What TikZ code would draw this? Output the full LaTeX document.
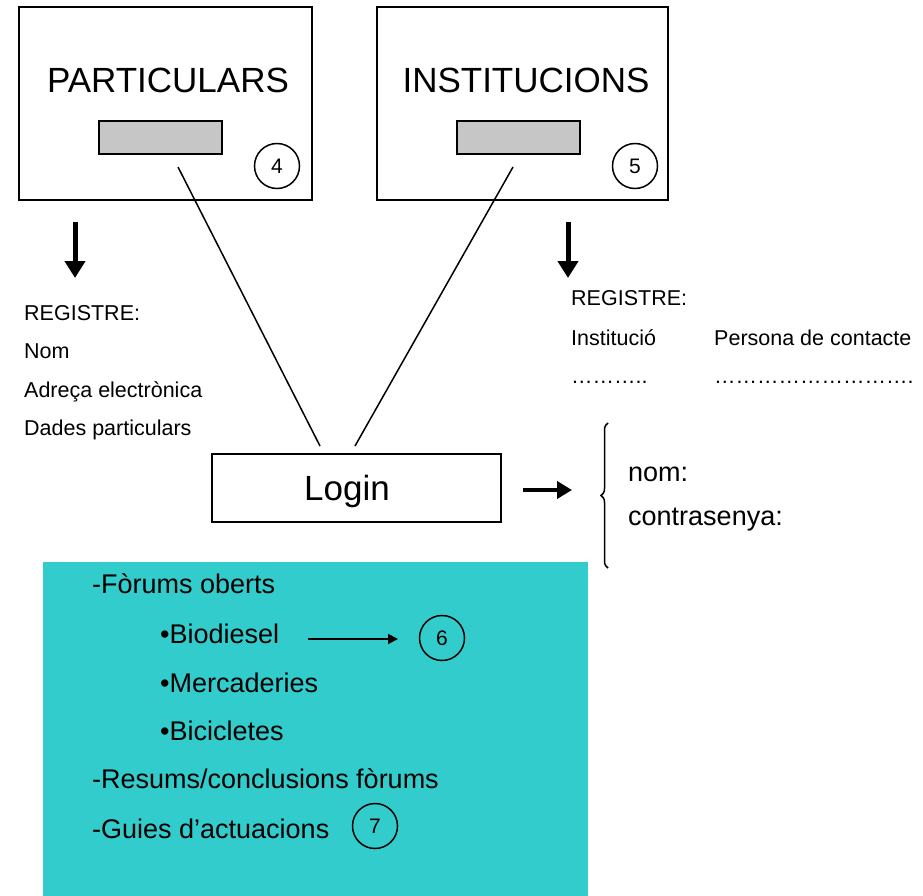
\documentclass[tikz,border=0pt]{standalone}
\usepackage{fontspec}
\setmainfont{Liberation Sans}
\usetikzlibrary{positioning,arrows.meta,decorations.pathreplacing}
\definecolor{forumcyan}{HTML}{33CCCC}

\begin{document}
\begin{tikzpicture}[x=1pt,y=-1pt,
    caixa/.style={draw,line width=2pt,inner sep=0pt},
    boto/.style={draw,line width=1.5pt,fill=gray!45,minimum width=123pt,minimum height=33pt,inner sep=0pt},
    titol/.style={anchor=base,font=\fontsize{35}{35}\selectfont,inner sep=0pt},
    petit/.style={anchor=base west,font=\fontsize{21.5}{21.5}\selectfont,inner sep=0pt},
    mig/.style={anchor=base west,font=\fontsize{27}{27}\selectfont,inner sep=0pt},
    numero/.style={draw,circle,line width=1.5pt,minimum size=45pt,inner sep=0pt,font=\fontsize{21}{21}\selectfont},
    fletxa/.style={line width=5pt,-{Triangle[width=20pt,length=17pt]}}]
\useasboundingbox (0,0) rectangle (923,896);

% caixes de dalt
\node[caixa,minimum width=293pt,minimum height=193pt] (boxP) at (165.5,103.5) {};
\node[caixa,minimum width=291pt,minimum height=193pt] (boxI) at (522.5,103.5) {};
\node[titol] (titP) at (168,93) {PARTICULARS};
\node[titol] (titI) at (526,93) {INSTITUCIONS};
\node[boto] (btnP) at (160.5,137.5) {};
\node[boto] (btnI) at (518.5,137.5) {};
\node[numero] (n4) at (277,166) {4};
\node[numero] (n5) at (635,166) {5};

% login
\node[caixa,minimum width=289pt,minimum height=68pt] (login) at (356,488) {};
\node[titol] (txtL) at (347,500) {Login};
\coordinate (pa) at (178,167);
\coordinate (ia) at (513,167);
\coordinate (lp) at (320,446);
\coordinate (li) at (355,446);
\draw[line width=1.5pt] (pa) -- (lp);
\draw[line width=1.5pt] (ia) -- (li);

% registres
\coordinate (aP1) at (75,222);
\coordinate (aP2) at (75,278);
\coordinate (aI1) at (568,222);
\coordinate (aI2) at (568,278);
\draw[fletxa] (aP1) -- (aP2);
\draw[fletxa] (aI1) -- (aI2);

\node[petit] (regP) at (24,320) {REGISTRE:};
\node[petit] (nom) at (24,358) {Nom};
\node[petit] (adr) at (24,397) {Adreça electrònica};
\node[petit] (dad) at (24,435) {Dades particulars};

\node[petit] (regI) at (571,305) {REGISTRE:};
\node[petit] (inst) at (571,345) {Institució};
\node[petit] (pers) at (714,345) {Persona de contacte};
\node[petit] (dotI) at (571,383) {………..};
\node[petit] (dotP) at (714,383) {……………………….};

% nom i contrasenya
\coordinate (la) at (523,490);
\coordinate (lb) at (572,490);
\draw[line width=4pt,-{Triangle[width=17pt,length=15pt]}] (la) -- (lb);
\coordinate (bb) at (608,568);
\coordinate (bt) at (608,423);
\draw[line width=1.5pt,decorate,decoration={brace,amplitude=7pt}] (bb) -- (bt);
\node[mig] (usr) at (628,481) {nom:};
\node[mig] (pwd) at (628,525) {contrasenya:};

% forums
\fill[forumcyan] (43,562) rectangle (588,896);
\node[mig] (f1) at (92,593) {-Fòrums oberts};
\node[mig] (f2) at (160,643) {•Biodiesel};
\node[mig] (f3) at (160,692) {•Mercaderies};
\node[mig] (f4) at (160,740) {•Bicicletes};
\node[mig] (f5) at (92,788) {-Resums/conclusions fòrums};
\node[mig] (f6) at (92,838) {-Guies d’actuacions};
\node[numero] (n6) at (442,638) {6};
\node[numero] (n7) at (375,826) {7};
\coordinate (bdA) at (308,639);
\coordinate (bdB) at (398,639);
\draw[line width=1.8pt,-{Triangle[width=10pt,length=10pt]}] (bdA) -- (bdB);
\end{tikzpicture}
\end{document}
